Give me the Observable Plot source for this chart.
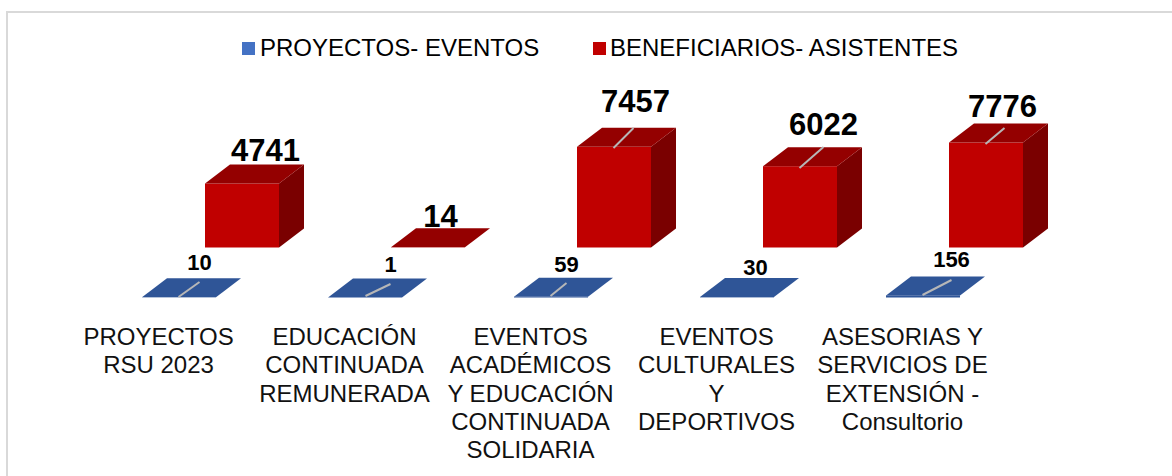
<!DOCTYPE html>
<html lang="es">
<head>
<meta charset="utf-8">
<script src="https://cdn.jsdelivr.net/npm/d3@7"></script>
<script src="https://cdn.jsdelivr.net/npm/@observablehq/plot@0.6"></script>
<style>
  html,body{margin:0;padding:0;background:#fff;overflow:hidden;width:1172px;height:476px}
  #frame{position:absolute;left:6px;top:11px;width:1180px;height:480px;border-left:2px solid #d9d9d9;border-top:2px solid #d9d9d9;pointer-events:none}
  #legend{height:64px;position:relative;font:24px "Liberation Sans",Arial,sans-serif;color:#000}
  .item{position:absolute;top:33px;display:flex;align-items:center;white-space:nowrap;line-height:30px}
  .sw{width:13px;height:13px;margin-right:5px;display:inline-block}
  svg{display:block}
</style>
</head>
<body>
<div id="frame"></div>
<div id="legend">
  <div class="item" style="left:242px"><span class="sw" style="background:#4472c4"></span>PROYECTOS- EVENTOS</div>
  <div class="item" style="left:593px"><span class="sw" style="background:#c00000;margin-right:4px"></span>BENEFICIARIOS- ASISTENTES</div>
</div>
<div id="chart"></div>
<script>
// Data
const categories = [
  "PROYECTOS\nRSU 2023",
  "EDUCACIÓN\nCONTINUADA\nREMUNERADA",
  "EVENTOS\nACADÉMICOS\nY EDUCACIÓN\nCONTINUADA\nSOLIDARIA",
  "EVENTOS\nCULTURALES\nY\nDEPORTIVOS",
  "ASESORIAS Y\nSERVICIOS DE\nEXTENSIÓN -\nConsultorio"
];
const proyectos = [10, 1, 59, 30, 156];
const beneficiarios = [4741, 14, 7457, 6022, 7776];

// Layout, in pixels, converted through the scales' units below
const W = 1172, H = 412, firstCat = 158, step = 186, baseY = 183.5, pxPerValue = 0.0135;
const xu = px => px / step;           // px -> category units
const yu = px => px / pxPerValue;     // px -> value units (positive = up)
const barW = xu(74), depthX = xu(25), depthY = yu(19);
const blueLeft = xu(-16), redLeft = xu(47), blueBase = yu(-50);
const catLabelY = yu(baseY - 260.5);
const redLabelDx = [107, 96, 105, 107, 100], redLabelDy = [33, 31, 45, 42, 36];
const blueLabelDx = [41, 46, 36, 39, 49], blueLabelDy = [35, 33, 32, 30, 36];
// leader lines: [dx1, up1, dx2, up2] from category centre and series baseline
const redLeaders = [null, null, [103, 120, 83, 100], [107, 101, 83, 80], [102, 120, 83, 104]];
const blueLeaders = [[41, 16, 20, 1], [46, 14, 21, 2], [36, 15, 20, 2], null, [49, 18, 20, 3]];

const bars = [
  ...proyectos.map((v, i) => ({i, v, left: i + blueLeft, base: blueBase, front: "#2f5597", top: "#2f5597", side: "#1f3864"})),
  ...beneficiarios.map((v, i) => ({i, v, left: i + redLeft, base: 0, front: "#c00000", top: "#940000", side: "#7a0000"}))
];
const topFace = bars.flatMap(b => [0, 1].map(t => ({
  b, y: b.base + b.v + t * depthY, x1: b.left + t * depthX, x2: b.left + barW + t * depthX
})));
const sideFace = bars.flatMap(b => [0, 1].map(t => ({
  b, x: b.left + barW + t * depthX, y1: b.base + t * depthY, y2: b.base + b.v + t * depthY
})));
const leaders = [
  ...redLeaders.map((l, i) => l && ({i, l, base: 0})),
  ...blueLeaders.map((l, i) => l && ({i, l, base: blueBase}))
].filter(Boolean);

const chart = Plot.plot({
  width: W, height: H, margin: 0,
  style: {background: "transparent", overflow: "visible"},
  x: {domain: [xu(-firstCat), xu(W - firstCat)], range: [0, W], axis: null},
  y: {domain: [yu(baseY - H), yu(baseY)], range: [H, 0], axis: null},
  marks: [
    Plot.areaY(sideFace.filter(d => d.b.v > 100 && d.b.base === 0), {
      x: "x", y1: "y1", y2: "y2", z: d => d.b.i, fill: d => d.b.side, curve: "linear"
    }),
    Plot.rect(bars, {
      x1: "left", x2: d => d.left + barW, y1: "base", y2: d => d.base + d.v, fill: "front"
    }),
    Plot.areaX(topFace, {
      y: "y", x1: "x1", x2: "x2", z: d => d.b.i * 10 + (d.b.base === 0 ? 1 : 0), fill: d => d.b.top, curve: "linear"
    }),
    Plot.link(leaders, {
      x1: d => d.i + xu(d.l[0]), y1: d => d.base + yu(d.l[1]),
      x2: d => d.i + xu(d.l[2]), y2: d => d.base + yu(d.l[3]),
      stroke: "#b7b7b7", strokeWidth: 2
    }),
    Plot.text(beneficiarios, {
      x: (d, i) => i + xu(redLabelDx[i]), y: (d, i) => d + yu(redLabelDy[i]),
      text: d => String(d), fontSize: 31, fontWeight: 700, fill: "#000",
      fontFamily: "Liberation Sans, Arial, sans-serif"
    }),
    Plot.text(proyectos, {
      x: (d, i) => i + xu(blueLabelDx[i]), y: (d, i) => blueBase + d + yu(blueLabelDy[i]),
      text: d => String(d), fontSize: 22, fontWeight: 700, fill: "#000",
      fontFamily: "Liberation Sans, Arial, sans-serif"
    }),
    Plot.text(categories, {
      x: (d, i) => i, y: () => catLabelY, text: d => d, lineAnchor: "top", lineHeight: 1.18,
      fontSize: 24, fill: "#111", fontFamily: "Liberation Sans, Arial, sans-serif"
    })
  ]
});
document.getElementById("chart").append(chart);
</script>
</body>
</html>
